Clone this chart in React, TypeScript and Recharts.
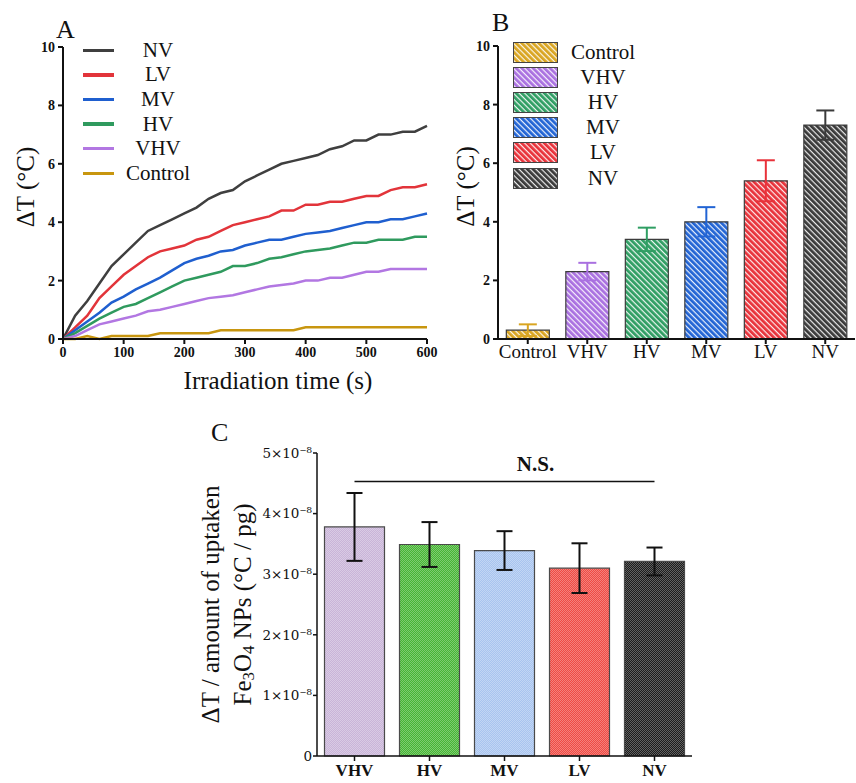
import {
  Bar,
  BarChart,
  Cell,
  ErrorBar,
  Label,
  Legend,
  Line,
  LineChart,
  ReferenceLine,
  XAxis,
  YAxis,
} from 'recharts'

const SERIF = 'Liberation Serif, Tinos, Times New Roman, Times, serif'
const CENTURY = 'DejaVu Serif, serif'
const INK = '#111'

// panel A: heating curves, one reading every 20 s
const times = [0, 20, 40, 60, 80, 100, 120, 140, 160, 180, 200, 220, 240, 260, 280, 300, 320, 340, 360, 380, 400, 420, 440, 460, 480, 500, 520, 540, 560, 580, 600]
const nvCurve = [0, 0.8, 1.3, 1.9, 2.5, 2.9, 3.3, 3.7, 3.9, 4.1, 4.3, 4.5, 4.8, 5.0, 5.1, 5.4, 5.6, 5.8, 6.0, 6.1, 6.2, 6.3, 6.5, 6.6, 6.8, 6.8, 7.0, 7.0, 7.1, 7.1, 7.3]
const lvCurve = [0, 0.4, 0.8, 1.4, 1.8, 2.2, 2.5, 2.8, 3.0, 3.1, 3.2, 3.4, 3.5, 3.7, 3.9, 4.0, 4.1, 4.2, 4.4, 4.4, 4.6, 4.6, 4.7, 4.7, 4.8, 4.9, 4.9, 5.1, 5.2, 5.2, 5.3]
const mvCurve = [0, 0.3, 0.6, 0.9, 1.25, 1.45, 1.7, 1.9, 2.1, 2.35, 2.6, 2.75, 2.85, 3.0, 3.05, 3.2, 3.3, 3.4, 3.4, 3.5, 3.6, 3.65, 3.7, 3.8, 3.9, 4.0, 4.0, 4.1, 4.1, 4.2, 4.3]
const hvCurve = [0, 0.2, 0.45, 0.7, 0.9, 1.1, 1.2, 1.4, 1.6, 1.8, 2.0, 2.1, 2.2, 2.3, 2.5, 2.5, 2.6, 2.75, 2.8, 2.9, 3.0, 3.05, 3.1, 3.2, 3.3, 3.3, 3.4, 3.4, 3.4, 3.5, 3.5]
const vhvCurve = [0, 0.1, 0.3, 0.5, 0.6, 0.7, 0.8, 0.95, 1.0, 1.1, 1.2, 1.3, 1.4, 1.45, 1.5, 1.6, 1.7, 1.8, 1.85, 1.9, 2.0, 2.0, 2.1, 2.1, 2.2, 2.3, 2.3, 2.4, 2.4, 2.4, 2.4]
const controlCurve = [0, 0, 0.1, 0, 0.1, 0.1, 0.1, 0.1, 0.2, 0.2, 0.2, 0.2, 0.2, 0.3, 0.3, 0.3, 0.3, 0.3, 0.3, 0.3, 0.4, 0.4, 0.4, 0.4, 0.4, 0.4, 0.4, 0.4, 0.4, 0.4, 0.4]
const timeTicks = [0, 100, 200, 300, 400, 500, 600]
const tempTicks = [0, 2, 4, 6, 8, 10]

const aSeries = [
  { key: 'NV', color: '#3f3f3f', values: nvCurve },
  { key: 'LV', color: '#e2343a', values: lvCurve },
  { key: 'MV', color: '#1f5fcf', values: mvCurve },
  { key: 'HV', color: '#2f9a5e', values: hvCurve },
  { key: 'VHV', color: '#b277e2', values: vhvCurve },
  { key: 'Control', color: '#c8960f', values: controlCurve },
]

// panel B: final temperature rise (mean ± sd)
const bGroups = ['Control', 'VHV', 'HV', 'MV', 'LV', 'NV']
const bMeans = [0.3, 2.3, 3.4, 4.0, 5.4, 7.3]
const bErrors = [0.2, 0.3, 0.4, 0.5, 0.7, 0.5]
const bColors = ['#d9a521', '#a970e0', '#2f9e63', '#2264d4', '#e8323a', '#3a3a3a']

// panel C: dT per uptaken Fe3O4, in units of 1e-8 °C/pg
const cGroups = ['VHV', 'HV', 'MV', 'LV', 'NV']
const cMeans = [3.78, 3.49, 3.39, 3.1, 3.21]
const cErrors = [0.56, 0.37, 0.32, 0.41, 0.23]
const cColors = ['#c9b4d8', '#46b534', '#a8c4ef', '#ef4a43', '#1c1c1c']
const cTicks = [0, 1, 2, 3, 4, 5]
const nsLevel = 4.53

const aData = times.map((t, i) => {
  const row: Record<string, number> = { t }
  aSeries.forEach((s) => (row[s.key] = s.values[i]))
  return row
})

const bData = bGroups.map((name, i) => ({ name, [name]: bMeans[i], [`${name}Err`]: bErrors[i] }))
const cData = cGroups.map((name, i) => ({ name, value: cMeans[i], err: cErrors[i] }))

const axisStroke = { stroke: INK, strokeWidth: 2 }
const numTick = { fontFamily: SERIF, fontSize: 14, fontWeight: 700, fill: INK }

function PatternDefs() {
  return (
    <svg width={0} height={0} style={{ position: 'absolute' }}>
      <defs>
        {bGroups.map((g, i) => (
          <pattern key={g} id={`hatch-${g}`} patternUnits="userSpaceOnUse" width={4} height={4} patternTransform="rotate(45)">
            <rect width={4} height={4} fill={bColors[i]} />
            <rect width={4} height={1.2} fill="#fff" opacity={0.9} />
          </pattern>
        ))}
        {cGroups.map((g, i) => (
          <pattern key={g} id={`dots-${g}`} patternUnits="userSpaceOnUse" width={2} height={2}>
            <rect width={2} height={2} fill={cColors[i]} />
            <rect width={1} height={1} fill="#fff" opacity={0.3} />
            <rect x={1} y={1} width={1} height={1} fill="#fff" opacity={0.3} />
          </pattern>
        ))}
      </defs>
    </svg>
  )
}

function vTitle(lines: React.ReactNode[], dx: number, dy: number, gap = 32) {
  return ({ viewBox }: any) => (
    <g>
      {lines.map((t, i) => (
        <text
          key={i}
          transform={`translate(${viewBox.x + dx + i * gap},${viewBox.y + viewBox.height / 2 + dy}) rotate(-90)`}
          textAnchor="middle"
          dominantBaseline="central"
          fontFamily={SERIF}
          fontSize={25}
          fill={INK}
        >
          {t}
        </text>
      ))}
    </g>
  )
}

function LineKey() {
  return (
    <div style={{ fontFamily: SERIF, fontSize: 21, color: INK, lineHeight: 1 }}>
      {aSeries.map((s) => (
        <div key={s.key} style={{ display: 'flex', alignItems: 'center', height: 24.6 }}>
          <span style={{ display: 'inline-block', width: 31, height: 3.5, background: s.color }} />
          <span style={{ width: 88, textAlign: 'center' }}>{s.key}</span>
        </div>
      ))}
    </div>
  )
}

function BoxKey() {
  return (
    <div style={{ fontFamily: SERIF, fontSize: 21, color: INK, lineHeight: 1 }}>
      {bGroups.map((g) => (
        <div key={g} style={{ display: 'flex', alignItems: 'center', height: 25.1 }}>
          <svg width={45} height={21}>
            <rect x={0.5} y={0.5} width={44} height={20} fill={`url(#hatch-${g})`} stroke="#444" />
          </svg>
          <span style={{ width: 90, textAlign: 'center' }}>{g}</span>
        </div>
      ))}
    </div>
  )
}

const letter = (ch: string, left: number, top: number) => (
  <div style={{ position: 'absolute', left, top, fontFamily: SERIF, fontSize: 26, color: INK, lineHeight: 1 }}>{ch}</div>
)

export default function App() {
  return (
    <div style={{ position: 'absolute', left: 0, top: 0, width: 856, height: 783, background: '#fff', fontFamily: SERIF }}>
      <PatternDefs />

      <div style={{ position: 'absolute', left: 0, top: 0 }}>
        <LineChart width={440} height={400} data={aData} margin={{ top: 47, right: 13, bottom: 0, left: 0 }}>
          <XAxis
            dataKey="t"
            type="number"
            domain={[0, 600]}
            ticks={timeTicks}
            height={61}
            tick={numTick}
            tickSize={5}
            tickMargin={3}
            axisLine={axisStroke}
            tickLine={axisStroke}
          >
            <Label
              content={({ viewBox }: any) => (
                <text x={viewBox.x + viewBox.width / 2 + 33} y={viewBox.y + 41} textAnchor="middle" dominantBaseline="central" fontFamily={SERIF} fontSize={25} fill={INK}>
                  Irradiation time (s)
                </text>
              )}
            />
          </XAxis>
          <YAxis
            domain={[0, 10]}
            ticks={tempTicks}
            width={63}
            tick={numTick}
            tickSize={5}
            tickMargin={3}
            axisLine={axisStroke}
            tickLine={axisStroke}
          >
            <Label content={vTitle(['ΔT (°C)'], 25, -6)} />
          </YAxis>
          <Legend
            layout="horizontal"
            align="center"
            verticalAlign="middle"
            wrapperStyle={{ left: 83, top: 38, width: 'auto', height: 'auto' }}
            content={() => <LineKey />}
          />
          {aSeries.map((s) => (
            <Line key={s.key} type="linear" dataKey={s.key} stroke={s.color} strokeWidth={2.5} dot={false} isAnimationActive={false} />
          ))}
        </LineChart>
      </div>

      <div style={{ position: 'absolute', left: 440, top: 0 }}>
        <BarChart width={416} height={370} data={bData} barCategoryGap="14%" margin={{ top: 46, right: 1, bottom: 0, left: 0 }}>
          <XAxis
            dataKey="name"
            height={31}
            tick={{ fontFamily: SERIF, fontSize: 19, fill: INK }}
            tickSize={5}
            tickMargin={1}
            axisLine={axisStroke}
            tickLine={axisStroke}
          />
          <YAxis
            domain={[0, 10]}
            ticks={tempTicks}
            width={58}
            tick={numTick}
            tickSize={5}
            tickMargin={3}
            axisLine={axisStroke}
            tickLine={axisStroke}
          >
            <Label content={vTitle(['ΔT (°C)'], 25, -6)} />
          </YAxis>
          <Legend
            layout="horizontal"
            align="center"
            verticalAlign="middle"
            wrapperStyle={{ left: 73, top: 40, width: 'auto', height: 'auto' }}
            content={() => <BoxKey />}
          />
          {bGroups.map((g, i) => (
            <Bar key={g} dataKey={g} stackId="b" fill={`url(#hatch-${g})`} stroke="#3c3c3c" strokeWidth={1.2} isAnimationActive={false}>
              <ErrorBar dataKey={`${g}Err`} width={9} stroke={bColors[i]} strokeWidth={2} />
            </Bar>
          ))}
        </BarChart>
      </div>

      <div style={{ position: 'absolute', left: 190, top: 400 }}>
        <BarChart width={520} height={383} data={cData} barCategoryGap="10%" margin={{ top: 53, right: 18, bottom: 0, left: 0 }}>
          <XAxis
            dataKey="name"
            height={27}
            tick={{ fontFamily: SERIF, fontSize: 17, fontWeight: 700, fill: INK }}
            tickSize={5}
            tickMargin={3}
            axisLine={{ stroke: INK, strokeWidth: 1.5 }}
            tickLine={{ stroke: INK, strokeWidth: 1.5 }}
          />
          <YAxis
            domain={[0, 5]}
            ticks={cTicks}
            width={127}
            tick={{ fontFamily: CENTURY, fontSize: 13.5, fill: INK }}
            tickFormatter={(v: number) => (v === 0 ? '0' : `${v}×10⁻⁸`)}
            tickSize={4}
            tickMargin={1}
            axisLine={{ stroke: INK, strokeWidth: 1.5 }}
            tickLine={{ stroke: INK, strokeWidth: 1.5 }}
          >
            <Label
              content={vTitle(
                [
                  'ΔT / amount of uptaken',
                  <>
                    Fe<tspan dy={6} fontSize={17}>3</tspan>
                    <tspan dy={-6}>O</tspan>
                    <tspan dy={6} fontSize={17}>4</tspan>
                    <tspan dy={-6}> NPs (°C / pg)</tspan>
                  </>,
                ],
                20,
                0,
              )}
            />
          </YAxis>
          <ReferenceLine
            segment={[
              { x: 'VHV', y: nsLevel },
              { x: 'NV', y: nsLevel },
            ]}
            stroke={INK}
            strokeWidth={1.5}
            ifOverflow="visible"
          >
            <Label value="N.S." position="top" offset={10} dx={31} fontFamily={SERIF} fontSize={21} fontWeight={700} fill={INK} />
          </ReferenceLine>
          <Bar dataKey="value" stroke="#4a4a4a" strokeWidth={1.2} isAnimationActive={false}>
            {cGroups.map((g) => (
              <Cell key={g} fill={`url(#dots-${g})`} />
            ))}
            <ErrorBar dataKey="err" width={8} stroke={INK} strokeWidth={2} />
          </Bar>
        </BarChart>
      </div>

      {letter('A', 56, 17)}
      {letter('B', 492, 10)}
      {letter('C', 211, 420)}
    </div>
  )
}
